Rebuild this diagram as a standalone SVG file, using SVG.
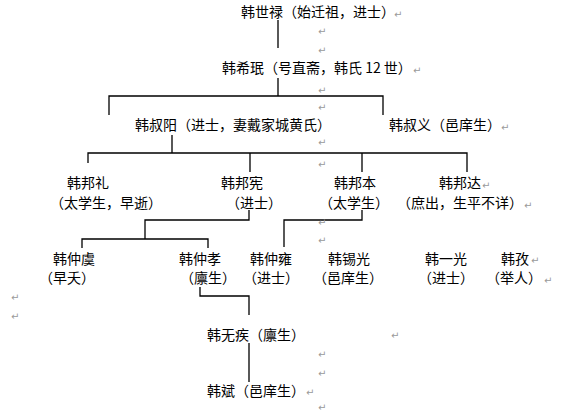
<svg xmlns="http://www.w3.org/2000/svg" width="565" height="412" viewBox="0 0 565 412">
<style>
.t{font-family:"Noto Sans CJK SC","Liberation Sans",sans-serif;font-size:14px;fill:#000}
.m{font-family:"DejaVu Sans",sans-serif;font-size:10px;fill:#9a9a9a}
.c{fill:none;stroke:#000;stroke-width:1.3}
</style>
<rect width="565" height="412" fill="#fff"/>
<g id="connectors" class="c">
<path d="M278 20V48M278 78V96"/>
<path d="M109 115V96H383V115"/>
<path d="M172 135V153M88 163V153H467V172M250 153V172M362 153V172"/>
<path d="M249 210V220H145V239M82 248V239H208V248"/>
<path d="M362 210V220H284V247"/>
<path d="M200 287V296H249V315M249 343V382"/>
</g>
<g id="n-shilu"><text class="t" x="241" y="17">韩世禄（始迁祖，进士）</text></g>
<g id="n-ximin"><text class="t" x="222" y="73">韩希珉（号直斋，韩氏 12 世）</text></g>
<g id="n-shuyang"><text class="t" x="135" y="130">韩叔阳（进士，妻戴家城黄氏）</text></g>
<g id="n-shuyi"><text class="t" x="389" y="130">韩叔义（邑庠生）</text></g>
<g id="n-bangli"><text class="t" x="67" y="188">韩邦礼</text><text class="t" x="50" y="208">（太学生，早逝）</text></g>
<g id="n-bangxian"><text class="t" x="221" y="188">韩邦宪</text><text class="t" x="226" y="208">（进士）</text></g>
<g id="n-bangben"><text class="t" x="334" y="188">韩邦本</text><text class="t" x="319" y="208">（太学生）</text></g>
<g id="n-bangda"><text class="t" x="439" y="188">韩邦达</text><text class="t" x="397" y="208">（庶出，生平不详）</text></g>
<g id="n-zhongyu"><text class="t" x="53" y="264">韩仲虞</text><text class="t" x="39" y="283">（早夭）</text></g>
<g id="n-zhongxiao"><text class="t" x="179" y="264">韩仲孝</text><text class="t" x="180" y="283">（廪生）</text></g>
<g id="n-zhongyong"><text class="t" x="250" y="264">韩仲雍</text><text class="t" x="243" y="283">（进士）</text></g>
<g id="n-xiguang"><text class="t" x="328" y="264">韩锡光</text><text class="t" x="313" y="283">（邑庠生）</text></g>
<g id="n-yiguang"><text class="t" x="425" y="264">韩一光</text><text class="t" x="418" y="283">（进士）</text></g>
<g id="n-zi"><text class="t" x="501" y="264">韩孜</text><text class="t" x="486" y="283">（举人）</text></g>
<g id="n-wuji"><text class="t" x="207" y="340">韩无疾（廪生）</text></g>
<g id="n-bin"><text class="t" x="207" y="396">韩斌（邑庠生）</text></g>
<g id="marks" class="m">
<text x="394" y="18">↵</text>
<text x="318" y="35">↵</text>
<text x="318" y="54">↵</text>
<text x="413" y="74">↵</text>
<text x="318" y="94">↵</text>
<text x="318" y="111">↵</text>
<text x="501" y="131">↵</text>
<text x="318" y="146">↵</text>
<text x="318" y="168">↵</text>
<text x="482" y="189">↵</text>
<text x="524" y="209">↵</text>
<text x="318" y="226">↵</text>
<text x="318" y="244">↵</text>
<text x="531" y="264">↵</text>
<text x="544" y="284">↵</text>
<text x="11" y="301">↵</text>
<text x="11" y="320">↵</text>
<text x="391" y="339">↵</text>
<text x="318" y="358">↵</text>
<text x="318" y="377">↵</text>
<text x="306" y="396">↵</text>
<text x="318" y="411">↵</text>
</g>
</svg>
